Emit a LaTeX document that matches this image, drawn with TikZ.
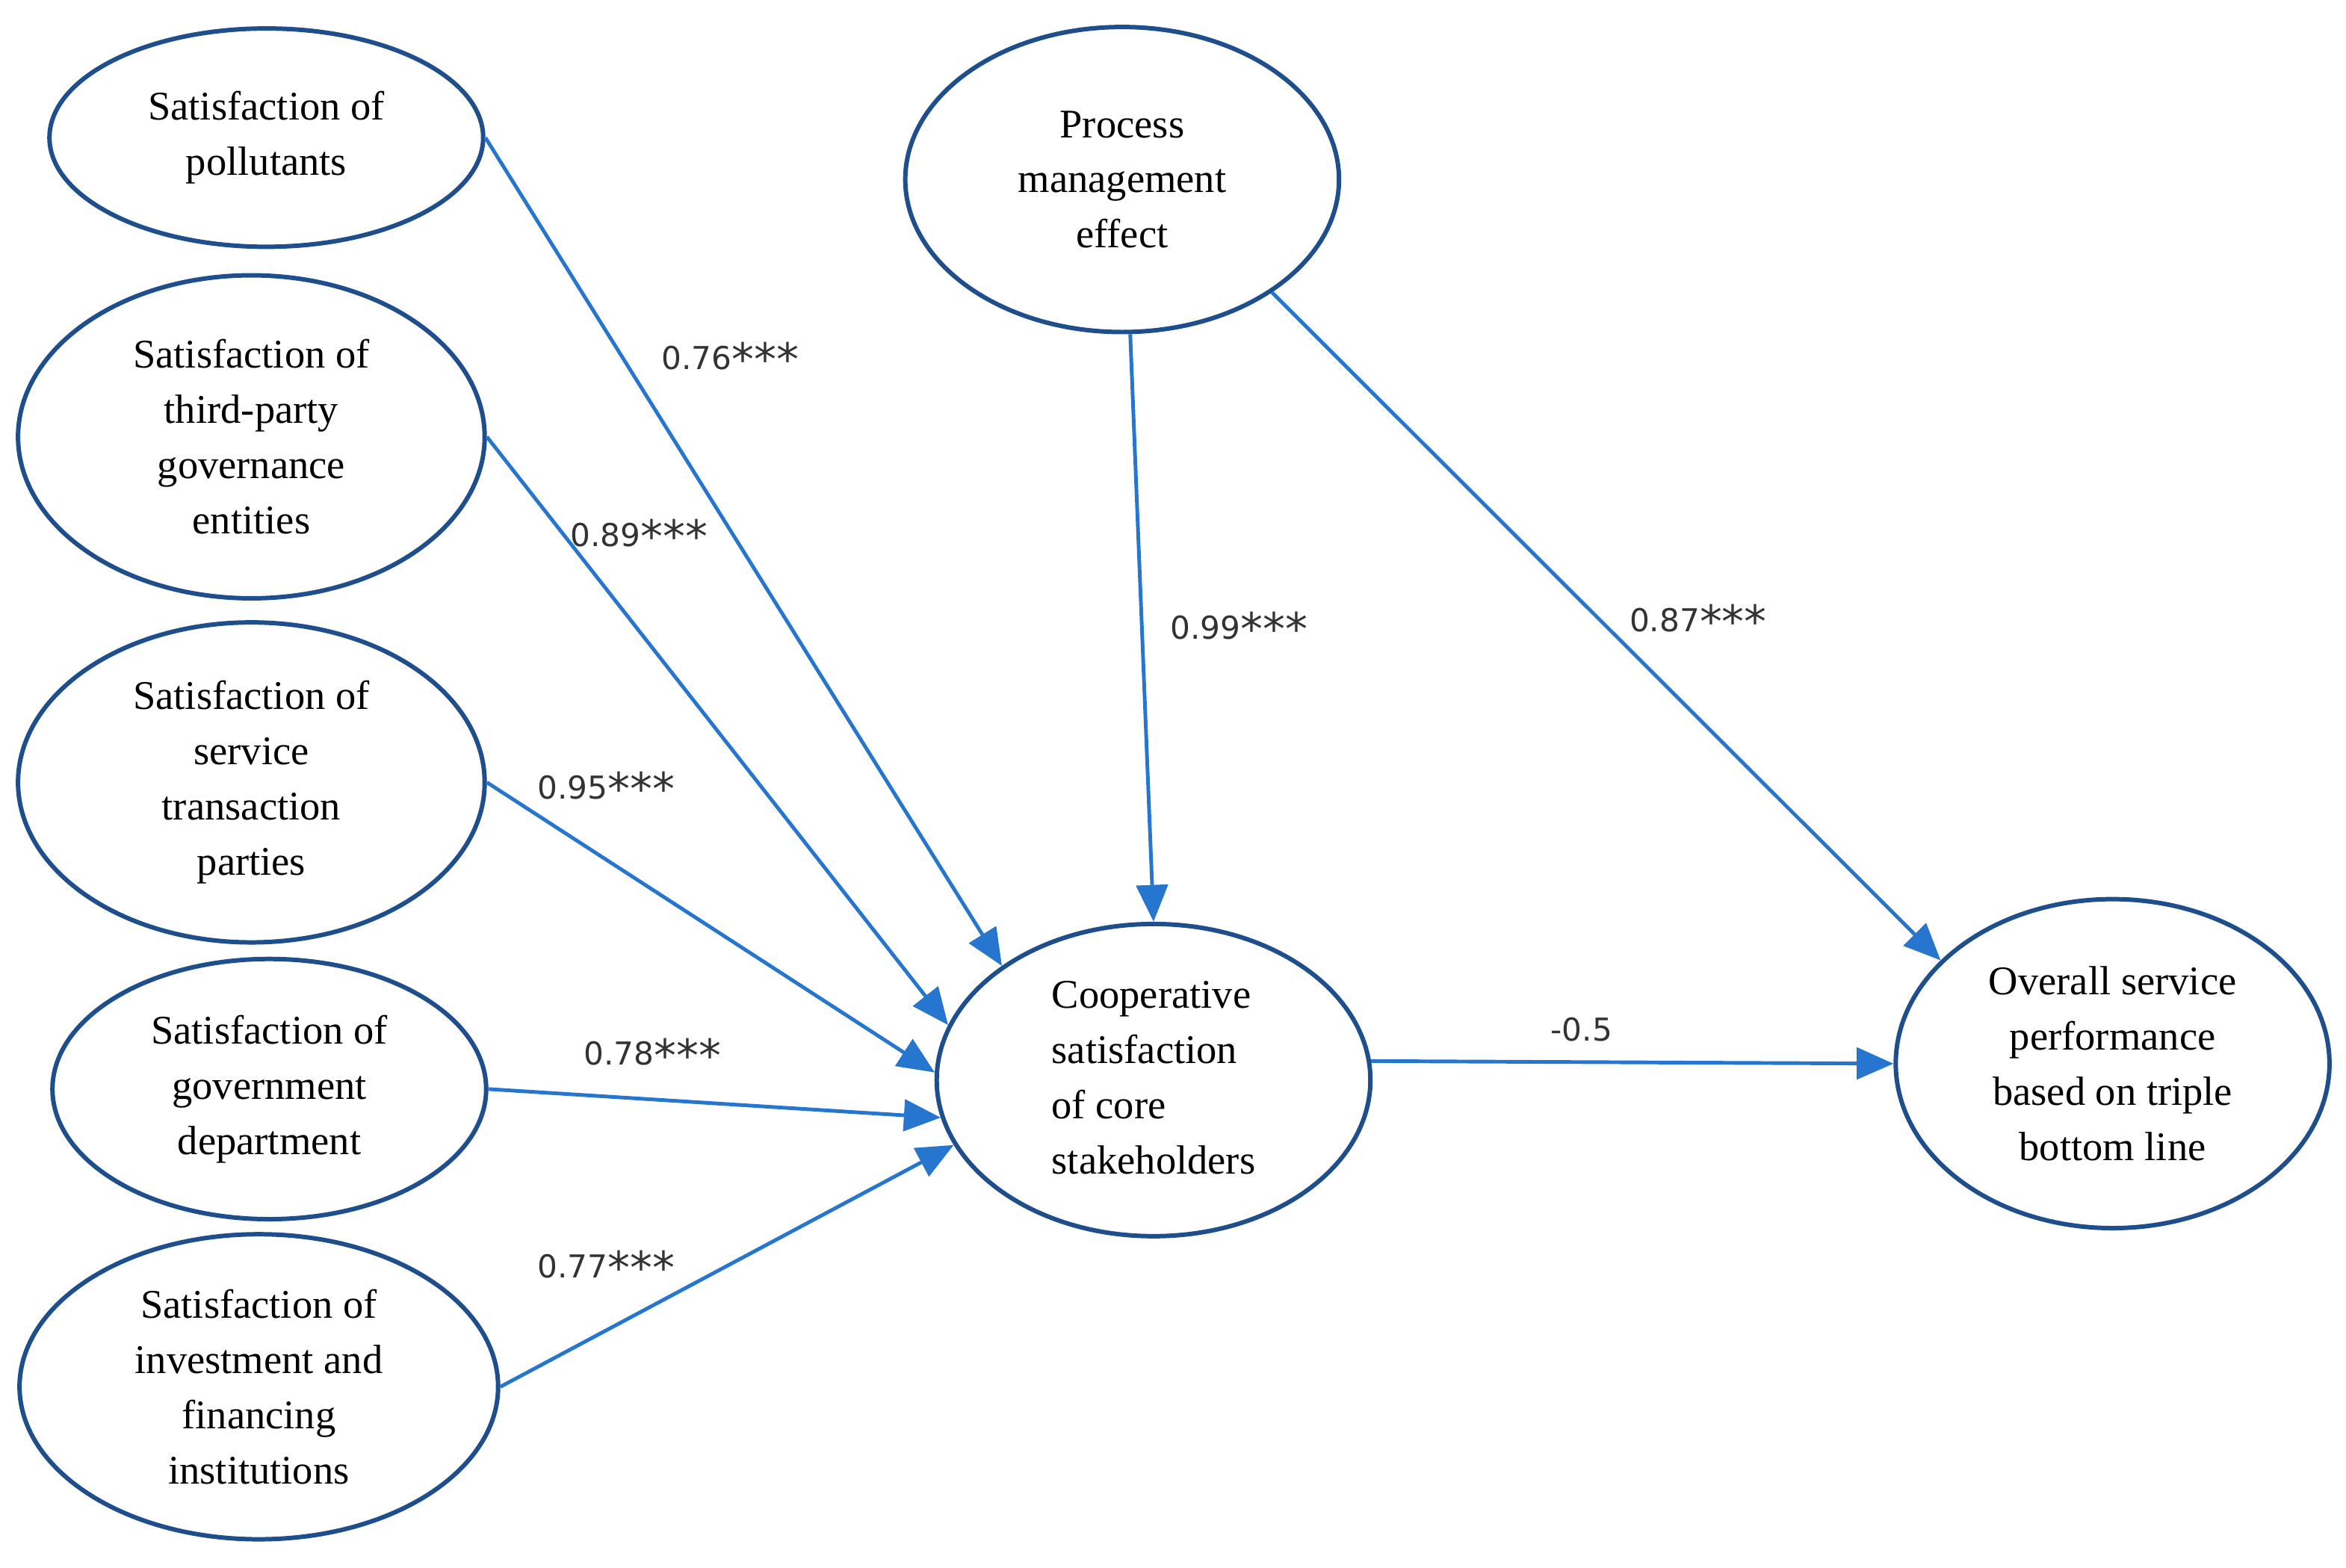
\documentclass[tikz,border=0pt]{standalone}
\usepackage{fontspec}
\setmainfont{Liberation Serif}
\newfontfamily\lab{DejaVu Sans}
\usetikzlibrary{shapes.geometric,arrows.meta}
\definecolor{ell}{RGB}{30,78,140}
\definecolor{arr}{RGB}{38,118,208}
\begin{document}
\begin{tikzpicture}[x=0.02cm,y=-0.02cm,
 el/.style={ellipse,draw=ell,line width=1.7pt,inner sep=0pt,align=center,font=\fontsize{15.5}{21}\selectfont},
 ar/.style={draw=arr,line width=1.4pt,-{Triangle[length=14pt,width=12pt]}},
 lb/.style={font=\lab\fontsize{12}{14}\selectfont\color{black!80}}]
\useasboundingbox (0,0) rectangle (1568,1048);
\newcommand{\myell}[5]{\node[el,minimum width=#4*0.04cm,minimum height=#5*0.04cm] (#1) at (#2,#3)}
\myell{a}{178}{92}{145}{73} {Satisfaction of\\pollutants};
\myell{b}{168}{292}{156}{108} {Satisfaction of\\third-party\\governance\\entities};
\myell{c}{168}{523}{156}{107} {Satisfaction of\\service\\transaction\\parties};
\myell{d}{180}{728}{145}{87} {Satisfaction of\\government\\department};
\myell{e}{173}{927}{160}{102} {Satisfaction of\\investment and\\financing\\institutions};
\myell{p}{750}{120}{145}{102} {Process\\management\\effect};
\myell{k}{771}{722}{145}{102} {\begin{tabular}{@{}l@{}}Cooperative\\satisfaction\\of core\\stakeholders\end{tabular}};
\myell{o}{1412}{711}{145}{110} {Overall service\\performance\\based on triple\\bottom line};
\draw[ar] (a.east) -- (k.143);
\draw[ar] (b.east) -- (k.165);
\draw[ar] (c.east) -- (k.178);
\draw[ar] (d.east) -- (k.190);
\draw[ar] (e.east) -- (k.198);
\draw[ar] (p.273) -- (k.90);
\draw[ar] (p.-37) -- (o.149);
\draw[ar] (k.5) -- (o.180);
\newcommand{\st}{\raisebox{-0.35ex}{\fontsize{17}{17}\selectfont***}}
\node[lb] (l1) at (488,240) {0.76\st};
\node[lb] (l2) at (427,358) {0.89\st};
\node[lb] (l3) at (405,527) {0.95\st};
\node[lb] (l4) at (436,705) {0.78\st};
\node[lb] (l5) at (405,847) {0.77\st};
\node[lb] (l6) at (828,420) {0.99\st};
\node[lb] (l7) at (1135,415) {0.87\st};
\node[lb] (l8) at (1057,688) {-0.5};
\end{tikzpicture}
\end{document}
